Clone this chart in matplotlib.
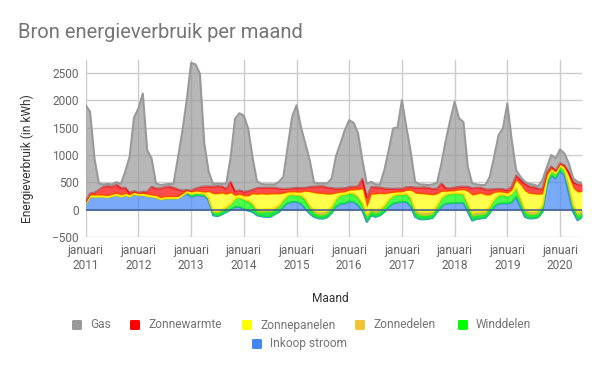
import matplotlib
matplotlib.use('Agg')
import matplotlib.pyplot as plt
import numpy as np
from matplotlib.patches import FancyBboxPatch

# Monthly values, januari 2011 .. juni 2020 (kWh)
inkoop_stroom = [115, 237, 237, 237, 237, 225, 250, 267, 237, 267, 237, 285,
                 267, 267, 250, 237, 225, 188, 207, 207, 207, 210, 260, 290,
                 230, 260, 260, 250, 170, -103, -120, -85, -43, 0, 49, 49,
                 10, -20, -43, -103, -122, -134, -134, -85, -43, 49, 122, 140,
                 140, 110, 18, -73, -134, -160, -164, -140, -60, 50, 110, 110,
                 150, 140, 80, -20, -225, -103, -134, -103, -43, 49, 110, 130,
                 140, 140, 60, -130, -175, -176, -170, -150, -43, 60, 110, 115,
                 120, 125, 120, -40, -200, -170, -160, -150, -60, 50, 110, 115,
                 110, 130, 231, 49, -134, -160, -160, -140, -43, 444, 626, 565,
                 710, 626, 292, -43, -195, -134]
winddelen = [0] * 12 + [0] * 11 + [30] + [
    60, 50, 40, 40, 40, 50, 60, 60, 70, 90, 150, 170,
    170, 170, 120, 60, 73, 91, 90, 80, 90, 110, 130, 130,
    120, 140, 150, 100, 70, 60, 64, 70, 80, 130, 150, 160,
    150, 140, 130, 100, 90, 70, 65, 70, 90, 120, 140, 140,
    130, 140, 130, 80, 70, 70, 65, 70, 90, 140, 160, 170,
    170, 160, 150, 110, 80, 70, 65, 70, 90, 120, 150, 150,
    130, 150, 150, 110, 80, 70, 65, 70, 90, 90, 70, 80,
    75, 90, 120, 80, 80, 70]
zonnedelen = [0] * 24 + [
    0, 0, 0, 0, 10, 30, 30, 30, 25, 20, 10, 10,
    15, 20, 40, 49, 49, 61, 50, 45, 40, 30, 20, 15,
    15, 20, 40, 50, 55, 57, 57, 55, 45, 25, 15, 15,
    15, 20, 35, 50, 50, 55, 55, 50, 40, 25, 15, 15,
    15, 20, 35, 55, 57, 55, 55, 50, 40, 25, 15, 15,
    15, 20, 25, 45, 55, 57, 55, 50, 40, 25, 15, 15,
    15, 20, 32, 45, 55, 57, 55, 50, 40, 20, 15, 15,
    12, 20, 40, 55, 57, 55]
zonnepanelen = [20] + [30] * 11 + [30] * 12 + [
    30, 30, 30, 30, 110, 315, 320, 300, 230, 200, 50, 50,
    55, 80, 175, 274, 292, 262, 280, 250, 200, 110, 50, 40,
    45, 50, 130, 250, 320, 340, 335, 300, 220, 100, 45, 40,
    40, 60, 120, 250, 134, 260, 300, 280, 200, 110, 50, 40,
    40, 50, 130, 300, 340, 340, 330, 300, 200, 110, 50, 40,
    40, 55, 70, 220, 330, 330, 340, 300, 200, 120, 50, 40,
    45, 60, 122, 250, 340, 330, 330, 300, 200, 70, 40, 30,
    30, 45, 150, 300, 380, 340]
zonnewarmte = [15, 31, 43, 92, 153, 177, 140, 165, 133, 103, 43, 25,
               13, 31, 48, 153, 134, 171, 176, 188, 163, 130, 60, 10,
               30, 45, 80, 105, 95, 130, 140, 120, 100, 200, 75, 73,
               80, 90, 73, 115, 109, 120, 115, 110, 100, 80, 60, 65,
               80, 75, 60, 90, 110, 130, 138, 120, 110, 80, 70, 65,
               60, 60, 60, 185, 182, 130, 125, 110, 100, 80, 65, 60,
               60, 60, 60, 100, 110, 120, 120, 110, 100, 145, 60, 50,
               60, 60, 55, 85, 125, 115, 100, 100, 100, 60, 55, 55,
               60, 60, 91, 93, 133, 128, 123, 103, 96, 63, 39, 27,
               24, 28, 85, 113, 140, 125]
gas = [1759, 1490, 626, 121, 40, 40, 40, 40, 70, 293, 657, 1344,
       1538, 1794, 760, 516, 91, 61, 47, 45, 70, 578, 1079, 1634,
       2331, 2272, 2077, 785, 268, 45, 45, 45, 92, 440, 1327, 1410,
       1390, 1137, 585, 125, 69, 60, 60, 60, 123, 221, 768, 1306,
       1509, 1119, 812, 489, 71, 53, 50, 75, 176, 595, 820, 1063,
       1221, 1167, 975, 341, 243, 98, 50, 53, 336, 704, 1104, 1117,
       1615, 1104, 643, 105, 60, 50, 50, 80, 105, 365, 876, 1246,
       1565, 1246, 1185, 364, 90, 58, 50, 80, 230, 592, 982, 1109,
       1580, 851, 97, 53, 36, 45, 45, 45, 157, 91, 207, 219,
       249, 218, 158, 66, 48, 34]

years = list(range(2011, 2021))
tick_labels = [f"januari\n{y}" for y in years]

series = [
    ("Inkoop stroom", inkoop_stroom, '#4285f4'),
    ("Winddelen", winddelen, '#00ff00'),
    ("Zonnedelen", zonnedelen, '#f1c232'),
    ("Zonnepanelen", zonnepanelen, '#ffff00'),
    ("Zonnewarmte", zonnewarmte, '#ff0000'),
    ("Gas", gas, '#999999'),
]

plt.rcParams['font.family'] = ['Roboto', 'DejaVu Sans']

fig = plt.figure(figsize=(6, 3.71), dpi=100)
ax = fig.add_axes([85.7 / 600, 1 - 237 / 371, (582 - 85.7) / 600, (237 - 60) / 371])

n = len(gas)
x = np.arange(n)
base = np.zeros(n)
z = 2
for name, vals, col in series:
    top = base + np.array(vals, dtype=float)
    ax.fill_between(x, base, top, color=col, alpha=0.7, lw=0, zorder=z)
    ax.plot(x, top, color=col, lw=1.5, zorder=z + 0.5, solid_joinstyle='round')
    base = top
    z += 1

ax.axhline(0, color='#3b5a92', lw=1.1, zorder=20)

ax.set_xlim(0, n - 1)
ax.set_ylim(-500, 2735)
ax.set_yticks(range(-500, 3000, 500))
ax.set_xticks([12 * i for i in range(len(years))])
ax.set_xticklabels(tick_labels, linespacing=1.25)
ax.grid(True, color='#cccccc', lw=1, zorder=0)
ax.set_axisbelow(True)
for s in ax.spines.values():
    s.set_visible(False)
ax.tick_params(axis='both', length=0, colors='#666666', labelsize=8.6)
ax.tick_params(axis='y', pad=5)
ax.tick_params(axis='x', pad=5)

fig.text(18 / 600, 1 - 32 / 371, "Bron energieverbruik per maand", fontsize=14.5,
         color='#757575', ha='left', va='center')
fig.text(27 / 600, 1 - 159 / 371, "Energieverbruik (in kWh)", rotation=90,
         fontsize=8.6, color='#333333', ha='center', va='center')
fig.text(330 / 600, 1 - 298 / 371, "Maand", fontsize=8.6, color='#333333',
         ha='center', va='center')

legend_items = [
    ("Gas", '#999999', 77, 325),
    ("Zonnewarmte", '#ff0000', 135, 325),
    ("Zonnepanelen", '#ffff00', 247, 325),
    ("Zonnedelen", '#f1c232', 360, 325),
    ("Winddelen", '#00ff00', 463, 325),
    ("Inkoop stroom", '#4285f4', 257, 344),
]
W, H = 600, 371
for label, col, cx, cy in legend_items:
    s = 10
    box = FancyBboxPatch(((cx - s / 2) / W, 1 - (cy + s / 2) / H), s / W, s / H,
                         boxstyle="round,pad=0,rounding_size=0.003",
                         transform=fig.transFigure, facecolor=col, edgecolor='none')
    fig.patches.append(box)
    fig.text((cx + 13) / W, 1 - cy / H, label, fontsize=8.6, color='#757575',
             ha='left', va='center')

fig.savefig('out.png', dpi=100)
